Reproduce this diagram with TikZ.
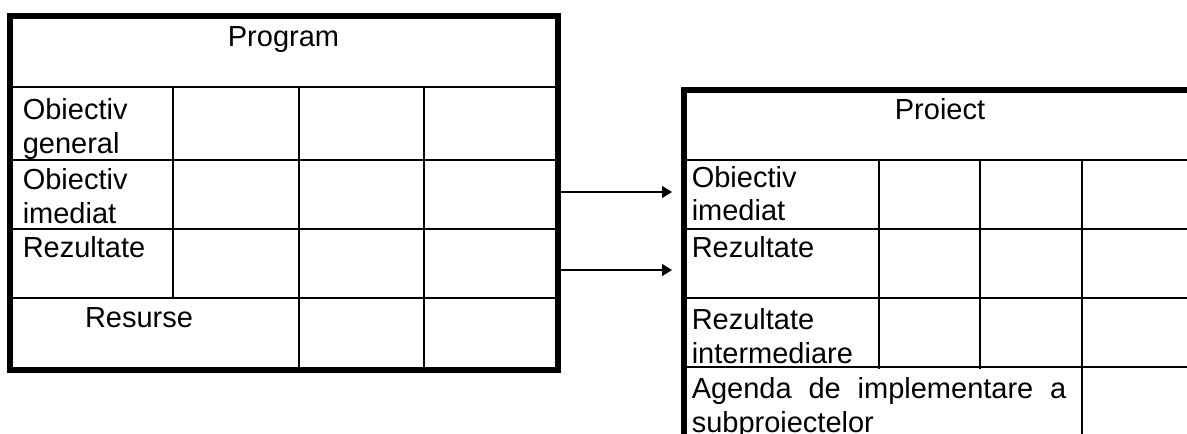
\documentclass[tikz,border=0pt]{standalone}
\usepackage{fontspec}
\setmainfont{Liberation Sans}
\usetikzlibrary{arrows.meta}

\tikzset{
	grid line/.style={line width=1.5pt},
	frame line/.style={line width=4.5pt},
	cell text/.style={anchor=base west, inner sep=0pt, align=left, font=\fontsize{21.75}{25.1}\selectfont},
	title text/.style={anchor=base, inner sep=0pt, font=\fontsize{21.75}{25.1}\selectfont},
	link/.style={line width=1.1pt, -{Triangle[length=7.5pt,width=9pt]}}
}

\begin{document}
\begin{tikzpicture}[x=0.75pt,y=-0.75pt]
		%\draw [help lines] (0,0) grid (1187,434);
		\clip (0,0) rectangle (1187,434);
		% program table
		\def\pL{10}		% left frame
		\def\pR{557.5}	% right frame
		\def\pT{16}
		\def\pB{370}
			\foreach \y in {87,160,229,298}
				\draw [grid line] (\pL,\y) -- (\pR,\y);
			\draw [grid line] (173,87) -- (173,298);
			\foreach \x in {299,424}
				\draw [grid line] (\x,87) -- (\x,\pB);
			\draw [frame line] (\pL,\pT) rectangle (\pR,\pB);
			% text nodes sit on the baseline of their last line
			\node [title text] (program) at (283.5,47) {Program};
			\node [cell text] (prog-og) at (22.5,153.3) {Obiectiv\\general};
			\node [cell text] (prog-oi) at (22.5,223.3) {Obiectiv\\imediat};
			\node [cell text] (prog-rez) at (22.5,257.5) {Rezultate};
			\node [title text] (prog-res) at (139,327) {Resurse};
		% proiect table
		\def\qL{683.5}
		\def\qR{1197}
		\def\qT{89.7}
		\def\qB{470}
			\foreach \y in {160,229,298,367}
				\draw [grid line] (\qL,\y) -- (\qR,\y);
			\foreach \x in {879,980}
				\draw [grid line] (\x,160) -- (\x,369);
			\draw [grid line] (1082,160) -- (1082,\qB);
			\draw [frame line] (\qL,\qT) rectangle (\qR,\qB);
			\node [title text] (proiect) at (940,120) {Proiect};
			\node [cell text] (proi-oi) at (691.5,221) {Obiectiv\\imediat};
			\node [cell text] (proi-rez) at (691.5,257.5) {Rezultate};
			\node [cell text] (proi-ri) at (691.5,363) {Rezultate\\intermediare};
			\node [cell text] (proi-ag) at (691.5,432) {\makebox[281pt][s]{Agenda de implementare a}\\subproiectelor};
		% arrows
			\coordinate (from-oi) at (\pR+2.25,192);
			\coordinate (to-oi) at (672,192);
			\coordinate (from-rez) at (\pR+2.25,270);
			\coordinate (to-rez) at (672,270);
			\draw [link] (from-oi) -- (to-oi);
			\draw [link] (from-rez) -- (to-rez);
	\end{tikzpicture}
\end{document}
